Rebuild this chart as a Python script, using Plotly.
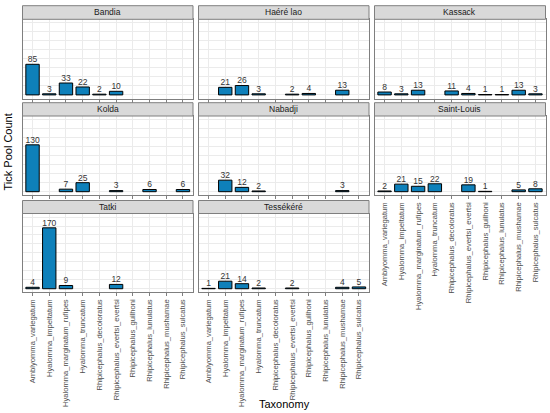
import plotly.graph_objects as go

# Data
species = [
    'Amblyomma_variegatum', 'Hyalomma_impeltatum', 'Hyalomma_marginatum_rufipes',
    'Hyalomma_truncatum', 'Rhipicephalus_decoloratus', 'Rhipicephalus_evertsi_evertsi',
    'Rhipicephalus_guilhoni', 'Rhipicephalus_lunulatus', 'Rhipicephalus_mushamae',
    'Rhipicephalus_sulcatus',
]
sites = ['Bandia', 'Haéré lao', 'Kassack', 'Kolda', 'Nabadji', 'Saint-Louis', 'Tatki', 'Tessékéré']

bandia = [85, 3, 33, 22, 2, 10, None, None, None, None]
haere_lao = [None, 21, 26, 3, None, 2, 4, None, 13, None]
kassack = [8, 3, 13, None, 11, 4, 1, 1, 13, 3]
kolda = [130, None, 7, 25, None, 3, None, 6, None, 6]
nabadji = [None, 32, 12, 2, None, None, None, None, 3, None]
saint_louis = [2, 21, 15, 22, None, 19, 1, None, 5, 8]
tatki = [4, 170, 9, None, None, 12, None, None, None, None]
tessekere = [1, 21, 14, 2, None, 2, None, None, 4, 5]

counts = [bandia, haere_lao, kassack, kolda, nabadji, saint_louis, tatki, tessekere]

W, H = 550, 413
FONT = 'Liberation Sans, Arial, sans-serif'
BAR = '#0E80BA'
BORDER = '#7F7F7F'
GRID = '#EBEBEB'

# panel geometry in pixels
cols_px = [(22.5, 193), (198.5, 369), (374.5, 545.5)]
rows_px = [(19.3, 98.5), (116, 195.3), (213.5, 292.3)]
strips_px = [(5.7, 19.3), (102.7, 116), (200.5, 213.5)]


def px(x):
    return x / W


def py(y):
    return 1 - y / H


fig = go.Figure()
shapes = []
annotations = []

for i, (site, vals) in enumerate(zip(sites, counts)):
    r, c = divmod(i, 3)
    n = i + 1
    xa = 'x' if n == 1 else f'x{n}'
    ya = 'y' if n == 1 else f'y{n}'

    fig.add_trace(go.Bar(
        x=species, y=vals, xaxis=xa, yaxis=ya, width=0.8,
        marker=dict(color=BAR, line=dict(color='black', width=1)),
        showlegend=False, hoverinfo='x+y',
    ))
    fig.add_trace(go.Scatter(
        x=species, y=vals, xaxis=xa, yaxis=ya, mode='text',
        text=[str(v) if v is not None else '' for v in vals],
        textposition='top center',
        textfont=dict(family=FONT, size=8.5, color='#333333'),
        showlegend=False, hoverinfo='skip', cliponaxis=False,
    ))

    # tick labels only on the bottom panel of each column
    show_labels = (r == 2) or (i == 5)
    x0, x1 = cols_px[c]
    y0, y1 = rows_px[r]
    fig.layout[f'xaxis{n}'] = dict(
        domain=[px(x0), px(x1)], anchor=ya, type='category',
        categoryorder='array', categoryarray=species, range=[-0.6, 9.6],
        showgrid=True, gridcolor=GRID, gridwidth=1,
        showline=True, linecolor=BORDER, mirror=True, linewidth=1,
        ticks='outside', ticklen=3, tickcolor=BORDER,
        showticklabels=show_labels, tickangle=-90,
        tickfont=dict(family=FONT, size=7.6, color='#4D4D4D'),
    )
    fig.layout[f'yaxis{n}'] = dict(
        domain=[py(y1), py(y0)], anchor=xa, range=[-10, 210],
        tickvals=[0, 50, 100, 150, 200], showticklabels=False,
        showgrid=True, gridcolor=GRID, gridwidth=1, zeroline=False,
        minor=dict(tickvals=[25, 75, 125, 175], showgrid=True, gridcolor=GRID, gridwidth=0.5),
        showline=True, linecolor=BORDER, mirror=True, linewidth=1,
    )

    s0, s1 = strips_px[r]
    shapes.append(dict(type='rect', xref='paper', yref='paper',
                       x0=px(x0), x1=px(x1), y0=py(s1), y1=py(s0),
                       fillcolor='#D9D9D9', line=dict(color=BORDER, width=1)))
    annotations.append(dict(text=site, xref='paper', yref='paper',
                            x=px((x0 + x1) / 2), y=py((s0 + s1) / 2),
                            showarrow=False, xanchor='center', yanchor='middle',
                            font=dict(family=FONT, size=8.5, color='#1A1A1A')))

annotations.append(dict(text='Taxonomy', xref='paper', yref='paper',
                        x=px(284), y=py(404), showarrow=False,
                        xanchor='center', yanchor='middle',
                        font=dict(family=FONT, size=11, color='black')))
annotations.append(dict(text='Tick Pool Count', xref='paper', yref='paper',
                        x=px(7.5), y=py(152), showarrow=False, textangle=-90,
                        xanchor='center', yanchor='middle',
                        font=dict(family=FONT, size=11, color='black')))

fig.update_layout(
    width=W, height=H,
    margin=dict(l=0, r=0, t=0, b=0),
    paper_bgcolor='white', plot_bgcolor='white',
    bargap=0.2,
    shapes=shapes, annotations=annotations,
    font=dict(family=FONT),
)

# drop the page's default body margin so the figure sits at the window's corner
fig.write_html('out.html', config={'displayModeBar': False},
               post_script="document.body.style.margin='0';")
